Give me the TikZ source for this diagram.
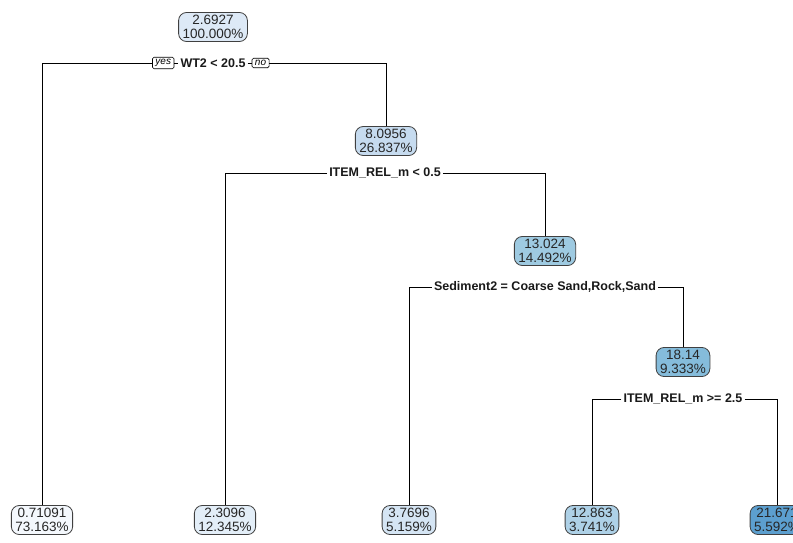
\documentclass[tikz,border=0pt]{standalone}
\usepackage{fontspec}
\setmainfont{Liberation Sans}
\usetikzlibrary{positioning}

% fill colours, light to dark by fitted value
\definecolor{fillA}{HTML}{F4F8FD}
\definecolor{fillB}{HTML}{DDE9F6}
\definecolor{fillC}{HTML}{E3EEF8}
\definecolor{fillD}{HTML}{D5E5F4}
\definecolor{fillE}{HTML}{C6DBEF}
\definecolor{fillF}{HTML}{9ECAE1}
\definecolor{fillG}{HTML}{85BCDB}
\definecolor{fillH}{HTML}{AED1E7}
\definecolor{fillI}{HTML}{5C9FCF}

\begin{document}
\begin{tikzpicture}[x=1pt, y=-1pt,
  box/.style={draw=black!75, line width=0.8pt, rounded corners=8pt, align=center,
    inner xsep=4pt, inner ysep=3pt, text=black!85,
    font=\fontsize{13.5}{13.5}\selectfont},
  split/.style={inner xsep=2pt, inner ysep=1pt, text=black!90,
    font=\bfseries\fontsize{12.5}{14}\selectfont},
  yn/.style={draw, line width=0.6pt, rounded corners=1.5pt, inner xsep=3pt, inner ysep=2pt,
    font=\itshape\fontsize{10}{10}\selectfont}]
  \useasboundingbox (0,0) rectangle (793,543);
  % inner nodes
  \node[box, fill=fillB] (root) at (213,27) {2.6927\\100.000\%};
  \node[box, fill=fillE] (n2) at (386,141) {8.0956\\26.837\%};
  \node[box, fill=fillF] (n3) at (545,251) {13.024\\14.492\%};
  \node[box, fill=fillG] (n4) at (683,362) {18.14\\9.333\%};
  % leaves
  \node[box, fill=fillA] (l1) at (42,520) {0.71091\\73.163\%};
  \node[box, fill=fillC] (l2) at (225,520) {2.3096\\12.345\%};
  \node[box, fill=fillD] (l3) at (409,520) {3.7696\\5.159\%};
  \node[box, fill=fillH] (l4) at (592,520) {12.863\\3.741\%};
  \node[box, fill=fillI] (l5) at (777,520) {21.671\\5.592\%};
  % split rules
  \node[split] (s1) at (213,63) {WT2 < 20.5};
  \node[yn, left=4pt of s1] (yes) {yes};
  \node[yn, right=4pt of s1] (no) {no};
  \node[split] (s2) at (385,173) {ITEM\_REL\_m < 0.5};
  \node[split] (s3) at (545,287) {Sediment2 = Coarse Sand,Rock,Sand};
  \node[split] (s4) at (683,399) {ITEM\_REL\_m >= 2.5};
  % branches
  \draw (yes.east) -- (s1.west);
  \draw (s1.east) -- (no.west);
  \draw (yes.west) -| (l1.north);
  \draw (no.east) -| (n2.north);
  \draw (s2.west) -| (l2.north);
  \draw (s2.east) -| (n3.north);
  \draw (s3.west) -| (l3.north);
  \draw (s3.east) -| (n4.north);
  \draw (s4.west) -| (l4.north);
  \draw (s4.east) -| (l5.north);
\end{tikzpicture}
\end{document}
